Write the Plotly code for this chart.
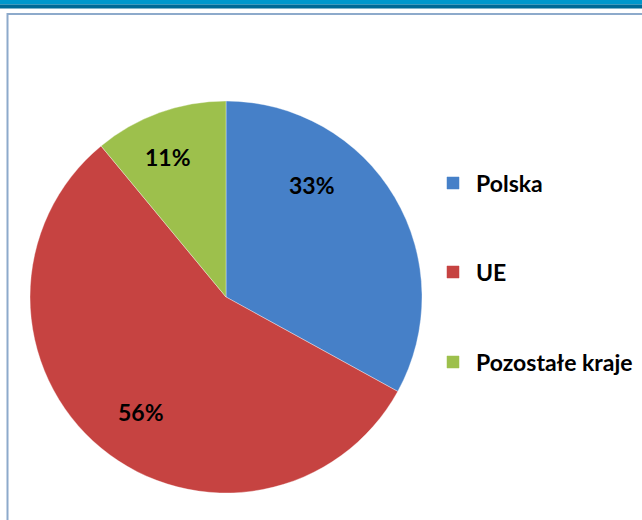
import plotly.graph_objects as go

categories = ["Polska", "UE", "Pozostałe kraje"]
values = [33, 56, 11]
colors = ["#4680C8", "#C64341", "#9DC04C"]

W, H = 642, 520
FONT = "Lato"

fig = go.Figure()
fig.add_trace(go.Pie(
    labels=categories,
    values=values,
    sort=False,
    direction="clockwise",
    rotation=0,
    marker=dict(colors=colors, line=dict(color="rgba(255,255,255,0.35)", width=1)),
    textinfo="none",
    hoverinfo="label+percent",
    showlegend=False,
    domain=dict(x=[30 / W, 422 / W], y=[1 - 493 / H, 1 - 101 / H]),
))

total = sum(values)
# label positions (pixels) in the chart area
label_pos = [(312, 185), (141, 412), (168, 157)]
annotations = []
for v, (px, py) in zip(values, label_pos):
    annotations.append(dict(
        x=px / W, y=1 - py / H, xref="paper", yref="paper",
        text=f"<b>{round(100 * v / total)}%</b>", showarrow=False,
        font=dict(family=FONT, size=23, color="#000000"),
        xanchor="center", yanchor="middle",
    ))

# manual legend
legend_y = [183, 272, 362]
shapes = []
for cat, col, ly in zip(categories, colors, legend_y):
    shapes.append(dict(
        type="rect", xref="paper", yref="paper",
        x0=447 / W, x1=459 / W, y0=1 - (ly + 6) / H, y1=1 - (ly - 6) / H,
        fillcolor=col, line=dict(color=col, width=0.5),
    ))
    annotations.append(dict(
        x=474 / W, y=1 - ly / H, xref="paper", yref="paper",
        text=f"<b>{cat}</b>", showarrow=False,
        font=dict(family=FONT, size=23, color="#000000"),
        xanchor="left", yanchor="middle",
    ))

# frame decorations
shapes += [
    dict(type="rect", xref="paper", yref="paper", x0=0, x1=1, y0=1 - 4.5 / H, y1=1,
         fillcolor="#0098CC", line=dict(width=0), layer="above"),
    dict(type="rect", xref="paper", yref="paper", x0=0, x1=1, y0=1 - 8.5 / H, y1=1 - 4.5 / H,
         fillcolor="#006A96", line=dict(width=0), layer="above"),
    dict(type="line", xref="paper", yref="paper", x0=7 / W, x1=1, y0=1 - 14 / H, y1=1 - 14 / H,
         line=dict(color="#8DAACB", width=2)),
    dict(type="line", xref="paper", yref="paper", x0=7.5 / W, x1=7.5 / W, y0=0, y1=1 - 13 / H,
         line=dict(color="#8DAACB", width=2)),
]

fig.update_layout(
    width=W, height=H,
    margin=dict(l=0, r=0, t=0, b=0),
    paper_bgcolor="#FFFFFF",
    plot_bgcolor="#FFFFFF",
    annotations=annotations,
    shapes=shapes,
    font=dict(family=FONT),
)

fig.write_html(
    "out.html",
    config={"displayModeBar": False},
    post_script="document.body.style.margin='0';document.body.style.padding='0';",
)
